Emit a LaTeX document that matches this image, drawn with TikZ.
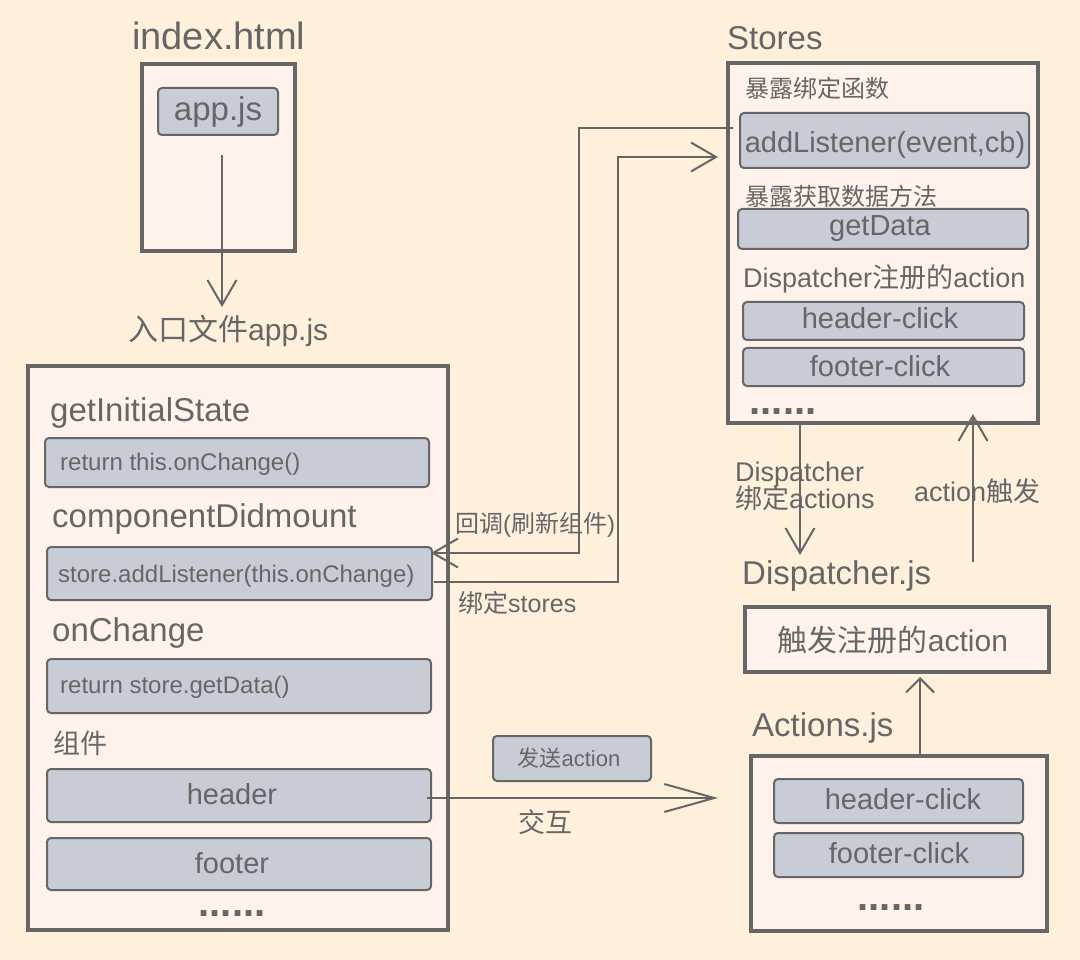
\documentclass[tikz,border=0pt]{standalone}
\usepackage{fontspec}
\setmainfont{Liberation Sans}
\newfontfamily\cjk{Noto Sans CJK SC}
\usetikzlibrary{arrows.meta,fit}
\definecolor{bg}{HTML}{FFF0DC}
\definecolor{ob}{HTML}{FFF2EA}
\definecolor{ib}{HTML}{C8CCD6}
\definecolor{bd}{HTML}{666666}
\definecolor{tc}{HTML}{666666}
\newcommand\fsz[1]{\fontsize{#1}{#1}\selectfont}
\begin{document}
\begin{tikzpicture}[x=1pt,y=-1pt,
  obox/.style={draw=bd,line width=4pt,fill=ob,inner sep=0pt},
  ibox/.style={draw=bd,line width=2pt,fill=ib,rounded corners=4pt,inner sep=0pt},
  lbl/.style={text=tc,inner sep=0pt,anchor=base west},
  clbl/.style={text=tc,inner sep=0pt,anchor=base},
  dots/.style={text=tc,inner sep=0pt,anchor=base,font=\bfseries\fsz{40}},
  conn/.style={draw=bd,line width=2pt},
  arr/.style={-{Straight Barb[length=25pt,width=29pt]}},
  arrlong/.style={-{Straight Barb[length=50pt,width=28pt]}},
  arrshort/.style={-{Straight Barb[length=14pt,width=28pt]}}]
\fill[bg] (0,0) rectangle (1080,960);
\useasboundingbox (0,0) rectangle (1080,960);

% index.html
\node[lbl] (idxlbl) at (132,50) {\fsz{38}index.html};
\node[obox,fit={(142,64) (295,251)}] (idx) {};
\node[ibox,fit={(158,88) (278,135)}] (appbox) {};
\node[clbl] (apptxt) at (218,121) {\fsz{33}app.js};
\coordinate (idxS) at (222,155);
\coordinate (entryN) at (222,307);
\draw[conn,arr] (idxS) -- (entryN);
\node[lbl] (entry) at (128,341) {\fsz{30}{\cjk 入口文件}app.js};

% component box
\node[obox,fit={(28,366) (448,930)}] (comp) {};
\node[lbl] (gis) at (50,421) {\fsz{33}getInitialState};
\node[ibox,fit={(45,438) (429,487)}] (gisbox) {};
\node[lbl] (gistxt) at (60,470) {\fsz{24}return this.onChange()};
\node[lbl] (cdm) at (52,527) {\fsz{33}componentDidmount};
\node[ibox,fit={(47,547) (432,600)}] (addbox) {};
\node[lbl] (addtxt) at (58,582) {\fsz{24}store.addListener(this.onChange)};
\node[lbl] (onc) at (52,641) {\fsz{33}onChange};
\node[ibox,fit={(47,659) (431,713)}] (ocbox) {};
\node[lbl] (octxt) at (60,693) {\fsz{24}return store.getData()};
\node[lbl] (zj) at (53,753) {\cjk\fsz{27}组件};
\node[ibox,fit={(47,769) (431,822)}] (hdr) {};
\node[clbl] (hdrtxt) at (232,804) {\fsz{29}header};
\node[ibox,fit={(47,838) (431,890)}] (ftr) {};
\node[clbl] (ftrtxt) at (232,873) {\fsz{29}footer};
\node[dots] (cdots) at (232,916) {......};

% Stores
\node[lbl] (stlbl) at (727,50) {\fsz{33}Stores};
\node[obox,fit={(728,63) (1038,423)}] (stores) {};
\node[lbl] (s1) at (745,98) {\cjk\fsz{24}暴露绑定函数};
\node[ibox,fit={(740,113) (1029,168)}] (albox) {};
\node[clbl] (altxt) at (885,153) {\fsz{29}addListener(event,cb)};
\node[lbl] (s2) at (745,206) {\cjk\fsz{24}暴露获取数据方法};
\node[ibox,fit={(738,209) (1028,249)}] (gdbox) {};
\node[clbl] (gdtxt) at (880,236) {\fsz{29}getData};
\node[lbl] (s3) at (743,288) {\fsz{27}Dispatcher{\cjk 注册的}action};
\node[ibox,fit={(743,302) (1024,340)}] (shc) {};
\node[clbl] (shctxt) at (880,329) {\fsz{29}header-click};
\node[ibox,fit={(743,348) (1024,386)}] (sfc) {};
\node[clbl] (sfctxt) at (880,376) {\fsz{29}footer-click};
\node[dots] (sdots) at (783,414) {......};

% Dispatcher
\coordinate (dspIn) at (800,555);
\draw[conn,arr] (stores.south -| dspIn) -- (dspIn);
\node[lbl] (dl1) at (735,481) {\fsz{27}Dispatcher};
\node[lbl] (dl2) at (735,508) {\fsz{27}{\cjk 绑定}actions};
\coordinate (trigS) at (973,562);
\coordinate (trigE) at (973,414);
\draw[conn,arr] (trigS) -- (trigE);
\node[lbl] (tl) at (914,501) {\fsz{27}action{\cjk 触发}};
\node[lbl] (dsplbl) at (742,584) {\fsz{33}Dispatcher.js};
\node[obox,fit={(745,607) (1049,672)}] (dsp) {};
\node[clbl] (dsptxt) at (893,651) {\fsz{30}{\cjk 触发注册的}action};

% Actions
\node[lbl] (actlbl) at (752,736) {\fsz{33}Actions.js};
\node[obox,fit={(751,756) (1047,931)}] (act) {};
\node[ibox,fit={(774,779) (1023,823)}] (ahc) {};
\node[clbl] (ahctxt) at (903,809) {\fsz{29}header-click};
\node[ibox,fit={(774,833) (1023,877)}] (afc) {};
\node[clbl] (afctxt) at (899,863) {\fsz{29}footer-click};
\node[dots] (adots) at (891,910) {......};
\coordinate (dspB) at (920,677);
\draw[conn,arrshort] (act.north -| dspB) -- (dspB);

% send action
\node[ibox,fit={(493,736) (651,781)}] (send) {};
\node[clbl] (sendtxt) at (569,766) {\fsz{22}{\cjk 发送}action};
\coordinate (actIn) at (718,798);
\draw[conn,arrlong] ([xshift=-5pt]hdr.east |- actIn) -- (actIn);
\node[lbl] (jh) at (518,832) {\cjk\fsz{27}交互};

% callbacks
\coordinate (cbS) at (733,128);
\coordinate (cbE) at (431,553);
\draw[conn,arr] (cbS) -- (579,128) -- (579,553) -- (cbE);
\node[lbl] (cbl) at (455,532) {\fsz{24}{\cjk 回调}({\cjk 刷新组件})};
\coordinate (bsS) at (434,582);
\coordinate (bsE) at (718,157);
\draw[conn,arr] (bsS) -- (618,582) -- (618,157) -- (bsE);
\node[lbl] (bsl) at (458,612) {\fsz{25}{\cjk 绑定}stores};
\end{tikzpicture}
\end{document}
